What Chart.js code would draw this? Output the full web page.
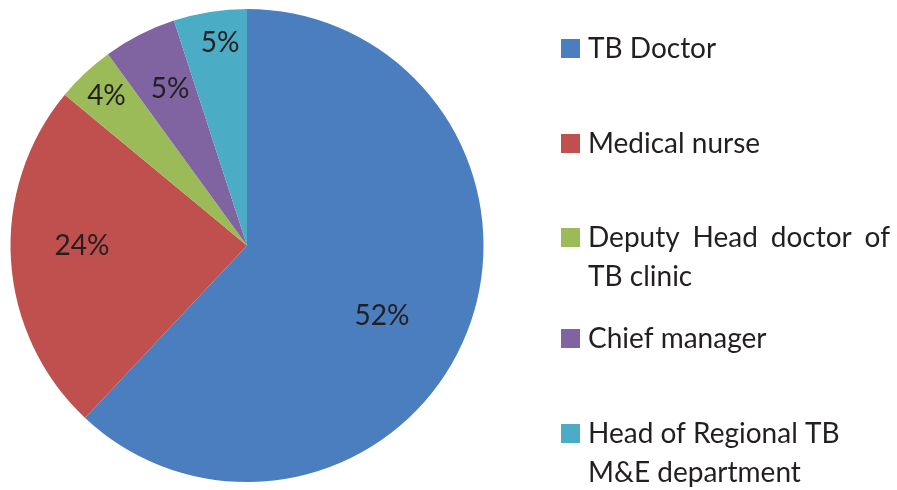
<!DOCTYPE html>
<html>
<head>
<meta charset="utf-8">
<script src="https://cdn.jsdelivr.net/npm/chart.js@4.4.0/dist/chart.umd.min.js"></script>
<style>
  html, body { margin: 0; padding: 0; background: #fff; }
  #wrap { width: 897px; height: 490px; }
</style>
</head>
<body>
<div id="wrap"><canvas id="pieChart" width="897" height="490"></canvas></div>
<script>
// categories, one entry per slice (lines as printed in the legend)
const categories = [
    ['TB Doctor'],
    ['Medical nurse'],
    ['Deputy Head doctor of', 'TB clinic'],
    ['Chief manager'],
    ['Head of Regional TB', 'M&E department']
];
const shares = [62, 24, 4, 5, 5];
// percentages as printed on the slices
const printedLabels = ['52%', '24%', '4%', '5%', '5%'];
const colors = ['#4a7ebf', '#c0504d', '#9bbb59', '#8064a2', '#4bacc6'];

const FONT = 'Lato, "Open Sans", sans-serif';

// labels inside the slices, at a per-slice distance from the centre
const sliceLabels = {
    id: 'sliceLabels',
    afterDatasetsDraw(chart, args, opts) {
        const ctx = chart.ctx;
        const meta = chart.getDatasetMeta(0);
        ctx.save();
        ctx.font = opts.size + 'px ' + FONT;
        ctx.fillStyle = '#231f20';
        ctx.textAlign = 'center';
        ctx.textBaseline = 'middle';
        meta.data.forEach((arc, i) => {
            const mid = (arc.startAngle + arc.endAngle) / 2 + opts.shift[i] * Math.PI / 180;
            const r = arc.outerRadius * opts.radius[i];
            ctx.fillText(printedLabels[i], arc.x + Math.cos(mid) * r, arc.y + Math.sin(mid) * r);
        });
        ctx.restore();
    }
};

// legend on the right, drawn by hand so the lines sit as in the original
const sideLegend = {
    id: 'sideLegend',
    afterDraw(chart, args, opts) {
        const ctx = chart.ctx;
        ctx.save();
        ctx.font = opts.size + 'px ' + FONT;
        ctx.textBaseline = 'alphabetic';
        categories.forEach((lines, i) => {
            const y = opts.baselines[i];
            ctx.fillStyle = colors[i];
            ctx.fillRect(opts.boxX, y - 19, 19, 19);
            ctx.fillStyle = '#231f20';
            lines.forEach((line, j) => {
                const ly = y + j * opts.lineHeight;
                if (opts.justify.includes(i) && j < lines.length - 1) {
                    const words = line.split(' ');
                    const total = words.reduce((s, w) => s + ctx.measureText(w).width, 0);
                    const gap = (opts.maxWidth - total) / (words.length - 1);
                    let x = opts.textX;
                    words.forEach(w => {
                        ctx.fillText(w, x, ly);
                        x += ctx.measureText(w).width + gap;
                    });
                } else {
                    ctx.fillText(line, opts.textX, ly);
                }
            });
        });
        ctx.restore();
    }
};

new Chart(document.getElementById('pieChart').getContext('2d'), {
    type: 'pie',
    data: {
        labels: categories,
        datasets: [{
            data: shares,
            backgroundColor: colors,
            borderWidth: 0
        }]
    },
    options: {
        responsive: false,
        animation: false,
        layout: { padding: { top: 9, bottom: 8, left: 10, right: 413 } },
        plugins: {
            legend: { display: false },
            tooltip: { enabled: false },
            sliceLabels: {
                size: 28,
                radius: [0.644, 0.698, 0.868, 0.737, 0.862],
                shift: [6, 3.6, 0, 0.8, 1.4]
            },
            sideLegend: {
                size: 28,
                boxX: 561,
                textX: 588,
                maxWidth: 302,
                lineHeight: 39,
                baselines: [58, 153, 247, 348, 443],
                justify: [2]
            }
        }
    },
    plugins: [sliceLabels, sideLegend]
});
</script>
</body>
</html>
